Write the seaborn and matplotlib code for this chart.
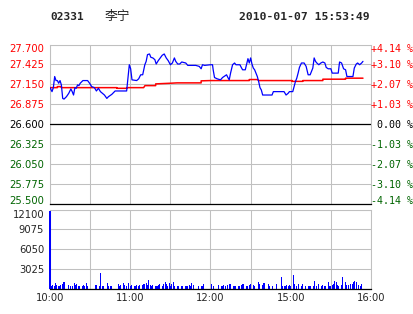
import matplotlib
matplotlib.use("Agg")
import matplotlib.pyplot as plt
import matplotlib.transforms as mtrans
import seaborn as sns
import numpy as np

# ---------------- data ----------------
code = "02331"
name = "李宁"
stamp = "2010-01-07 15:53:49"

price_min = [0, 1.5, 2.5, 3.5, 4.5, 5.5, 6.5, 7.5, 8.5, 9.5,
             10.5, 12.3, 14, 15.6, 16.6, 17.6, 18.6, 19.6, 20.6, 21.6,
             22.6, 24.6, 28.1, 29.6, 31.2, 33.2, 34.7, 36.2, 37.7, 39.2,
             40.7, 42.5, 43.7, 46.2, 48.7, 57.3, 58.3, 59.3, 60.3, 61.3,
             64.8, 66.3, 67.8, 69.3, 70.9, 71.9, 72.9, 74.4, 75.4, 76.9,
             78.4, 79.4, 80.9, 82.4, 83.9, 85.4, 86.9, 88.4, 90, 91.5,
             93, 94, 95.5, 97, 98.5, 101.5, 103, 109, 111.6, 113,
             114, 115.6, 120, 121.5, 122, 123, 125, 127.5, 129, 130.5,
             132, 133, 134, 135, 136.5, 138, 139, 142, 143, 144,
             146, 147, 148, 149, 150, 151, 152, 153, 154, 155,
             156, 157, 158, 159, 166, 167, 175, 176.5, 178, 179,
             181.5, 182.5, 183.5, 184.5, 185.5, 186.5, 188, 190, 191.5, 193,
             194.5, 196.5, 197.5, 198.5, 199.5, 201, 202.5, 204, 205.5, 206.5,
             208, 210, 211, 215.5, 216.5, 218, 219.5, 221, 222, 226.5,
             227.5, 229, 230, 231.5, 233, 234]
price_val = [27.103, 27.048, 27.103, 27.257, 27.201, 27.201, 27.164, 27.201, 27.141, 26.954,
             26.945, 26.978, 27.024, 27.085, 27.048, 27.001, 27.103, 27.094, 27.141, 27.131,
             27.164, 27.201, 27.201, 27.164, 27.117, 27.103, 27.057, 27.094, 27.048, 27.024,
             27.001, 26.954, 26.978, 27.010, 27.057, 27.057, 27.234, 27.420, 27.364, 27.211,
             27.201, 27.225, 27.281, 27.281, 27.420, 27.467, 27.560, 27.569, 27.523, 27.514,
             27.490, 27.430, 27.476, 27.514, 27.551, 27.569, 27.514, 27.476, 27.420, 27.444,
             27.514, 27.467, 27.430, 27.430, 27.458, 27.444, 27.411, 27.411, 27.397, 27.364,
             27.420, 27.411, 27.420, 27.420, 27.350, 27.243, 27.225, 27.211, 27.243, 27.262,
             27.281, 27.243, 27.211, 27.304, 27.420, 27.444, 27.420, 27.420, 27.383, 27.350,
             27.350, 27.430, 27.504, 27.444, 27.514, 27.430, 27.374, 27.350, 27.304, 27.257,
             27.187, 27.103, 27.071, 27.001, 27.001, 27.048, 27.048, 27.001, 27.024, 27.048,
             27.048, 27.117, 27.187, 27.234, 27.304, 27.383, 27.444, 27.444, 27.397, 27.281,
             27.281, 27.374, 27.514, 27.467, 27.444, 27.420, 27.444, 27.458, 27.444, 27.383,
             27.364, 27.364, 27.304, 27.304, 27.458, 27.444, 27.364, 27.350, 27.257, 27.257,
             27.374, 27.430, 27.444, 27.420, 27.444, 27.467]

avg_min = [0, 5.5, 5.5, 8.5, 8.5, 50, 50, 57.5, 57.5, 70,
           71, 79, 79, 90, 95, 113, 113, 120, 149, 149,
           155, 156, 181, 181, 189, 189, 204, 204, 221, 221,
           234]
avg_val = [27.103, 27.103, 27.117, 27.117, 27.103, 27.103, 27.094, 27.094, 27.103, 27.103,
           27.131, 27.131, 27.155, 27.164, 27.169, 27.169, 27.197, 27.201, 27.201, 27.215,
           27.215, 27.201, 27.201, 27.190, 27.190, 27.201, 27.201, 27.220, 27.220, 27.234,
           27.234]

vol_min = [0, 1, 2, 3, 4, 5, 6, 7, 8, 9,
           10, 11, 14, 15, 17, 18, 19, 20, 21, 22,
           24, 25, 26, 27, 28, 34, 35, 37, 38, 39,
           40, 43, 44, 45, 46, 51, 52, 53, 55, 56,
           57, 59, 60, 61, 63, 64, 65, 66, 67, 69,
           70, 71, 72, 73, 74, 75, 76, 77, 79, 80,
           81, 82, 84, 85, 86, 87, 88, 89, 90, 91,
           92, 93, 95, 96, 98, 99, 101, 102, 103, 104,
           105, 106, 107, 111, 113, 114, 115, 121, 122, 126,
           128, 129, 130, 131, 133, 134, 135, 137, 138, 139,
           141, 142, 143, 144, 145, 147, 148, 149, 150, 152,
           153, 156, 157, 159, 160, 163, 164, 166, 169, 173,
           174, 175, 176, 177, 178, 179, 180, 182, 183, 184,
           186, 188, 189, 191, 193, 194, 195, 197, 198, 199,
           201, 203, 204, 205, 206, 208, 209, 210, 211, 212,
           213, 214, 215, 216, 218, 219, 221, 222, 223, 225,
           226, 227, 228, 229, 231, 232, 233]
vol_val = [11800, 420, 530, 370, 800, 530, 320, 420, 530, 690,
           950, 1060, 530, 370, 420, 800, 530, 690, 420, 370,
           420, 530, 370, 800, 420, 530, 530, 420, 2440, 420,
           420, 800, 420, 370, 420, 640, 420, 530, 800, 530,
           420, 800, 420, 530, 420, 420, 530, 420, 530, 530,
           690, 640, 800, 530, 1330, 530, 420, 530, 420, 420,
           530, 640, 420, 640, 950, 640, 420, 800, 420, 640,
           950, 420, 420, 420, 420, 420, 420, 420, 420, 530,
           420, 800, 530, 420, 420, 420, 640, 640, 320, 530,
           370, 420, 530, 420, 530, 640, 640, 370, 370, 370,
           420, 370, 530, 640, 690, 420, 370, 530, 690, 530,
           420, 950, 640, 530, 800, 690, 370, 370, 740, 1700,
           370, 370, 370, 530, 370, 530, 420, 2010, 640, 420,
           740, 370, 740, 420, 420, 420, 420, 420, 1170, 420,
           740, 420, 530, 420, 420, 950, 420, 420, 530, 740,
           1170, 950, 530, 420, 530, 1800, 1060, 530, 530, 740,
           740, 1060, 1170, 950, 530, 420, 740]

prev_close = 26.600
price_ticks = [27.700, 27.425, 27.150, 26.875, 26.600, 26.325, 26.050, 25.775, 25.500]
price_labels = ["27.700", "27.425", "27.150", "26.875", "26.600", "26.325", "26.050", "25.775", "25.500"]
pct_labels = ["+4.14 %", "+3.10 %", "+2.07 %", "+1.03 %", " 0.00 %", "-1.03 %", "-2.07 %", "-3.10 %", "-4.14 %"]
vol_ticks = [0, 3025, 6050, 9075, 12100]
vol_labels = ["", "3025", "6050", "9075", "12100"]
time_ticks = [0, 60, 120, 180, 240]
time_labels = ["10:00", "11:00", "12:00", "15:00", "16:00"]

# ---------------- style ----------------
sns.set_style("white")
plt.rcParams["font.family"] = ["DejaVu Sans"]

RED = "#ff0000"
GREEN = "#006400"
GRID = "#c0c0c0"
FS = 7.2

fig = plt.figure(figsize=(4.14, 3.14), dpi=100)
W, H = 414, 314
L, R = 50, 371
ax = fig.add_axes([L / W, 1 - 203.5 / H, (R - L) / W, (203.5 - 44.5) / H])
axv = fig.add_axes([L / W, 1 - 288.5 / H, (R - L) / W, (288.5 - 209.5) / H])

grid_x = np.arange(0, 241, 30)


def label_color(v):
    if abs(v - prev_close) < 1e-6:
        return "black"
    return RED if v > prev_close else GREEN


def nudge(label, dy_px):
    label.set_transform(label.get_transform() +
                        mtrans.ScaledTranslation(0, dy_px / 100.0, fig.dpi_scale_trans))


# price panel
ax.set_xlim(0, 240)
ax.set_ylim(25.5, 27.7)
ax.set_yticks(price_ticks)
ax.set_yticklabels(price_labels)
ax.set_xticks(grid_x)
ax.set_xticklabels([])
ax.grid(True, color=GRID, lw=0.75)
ax.set_axisbelow(True)
ax.tick_params(axis="both", length=0)
ax.tick_params(axis="y", pad=4.3, labelsize=FS)
for lab, v in zip(ax.get_yticklabels(), price_ticks):
    lab.set_color(label_color(v))
ax.axhline(prev_close, color="black", lw=0.9, zorder=2)
for side in ["top", "left", "right"]:
    ax.spines[side].set_color(GRID)
    ax.spines[side].set_linewidth(0.75)
    ax.spines[side].set_zorder(1.5)
ax.spines["bottom"].set_color("black")
ax.spines["bottom"].set_linewidth(0.9)

sns.lineplot(x=avg_min, y=avg_val, ax=ax, color=RED, lw=1.1, estimator=None, sort=False, zorder=3)
sns.lineplot(x=price_min, y=price_val, ax=ax, color="#0000ff", lw=0.9, estimator=None, sort=False, zorder=4)
ax.set_xlabel("")
ax.set_ylabel("")

ax2 = ax.twinx()
ax2.set_ylim(25.5, 27.7)
ax2.set_yticks(price_ticks)
ax2.set_yticklabels(pct_labels, family="DejaVu Sans Mono", fontsize=FS)
ax2.tick_params(axis="y", length=0, pad=0.3)
for lab, v in zip(ax2.get_yticklabels(), price_ticks):
    lab.set_color(label_color(v))
for sp in ax2.spines.values():
    sp.set_visible(False)

# nudge edge labels inward, as in the reference
for a in (ax, ax2):
    labs = a.get_yticklabels()
    nudge(labs[0], -3)
    nudge(labs[-1], 3.5)

# volume panel
sns.histplot(x=vol_min, weights=vol_val, discrete=True, shrink=0.75, ax=axv,
             color="#0000ff", alpha=1, linewidth=0, element="bars", zorder=3)
for p in axv.patches:
    p.set_clip_on(False)
axv.set_xlim(0, 240)
axv.set_ylim(0, 12100)
axv.set_yticks(vol_ticks)
axv.set_yticklabels(vol_labels)
axv.set_xticks(grid_x)
axv.set_xticklabels([time_labels[time_ticks.index(t)] if t in time_ticks else "" for t in grid_x])
axv.grid(True, color=GRID, lw=0.75)
axv.set_axisbelow(True)
axv.tick_params(axis="both", length=0, labelsize=FS)
axv.tick_params(axis="y", pad=4.3)
axv.tick_params(axis="x", pad=3)
nudge(axv.get_yticklabels()[-1], -4)
axv.set_xlabel("")
axv.set_ylabel("")
for side in ["top", "left", "right"]:
    axv.spines[side].set_color(GRID)
    axv.spines[side].set_linewidth(0.75)
    axv.spines[side].set_zorder(1.5)
axv.spines["bottom"].set_color("black")
axv.spines["bottom"].set_linewidth(0.9)
axv.spines["bottom"].set_zorder(4)

# header
fig.text(50 / W, 1 - 16.5 / H, code, family="DejaVu Sans Mono", weight="bold", fontsize=8.0, va="center", ha="left")
fig.text(104 / W, 1 - 16.5 / H, name, family=["Noto Sans CJK SC", "DejaVu Sans"], fontsize=9.2, va="center", ha="left")
fig.text(370 / W, 1 - 16.5 / H, stamp, family="DejaVu Sans Mono", weight="bold", fontsize=8.2, va="center", ha="right")

fig.savefig("out.png", dpi=100)
